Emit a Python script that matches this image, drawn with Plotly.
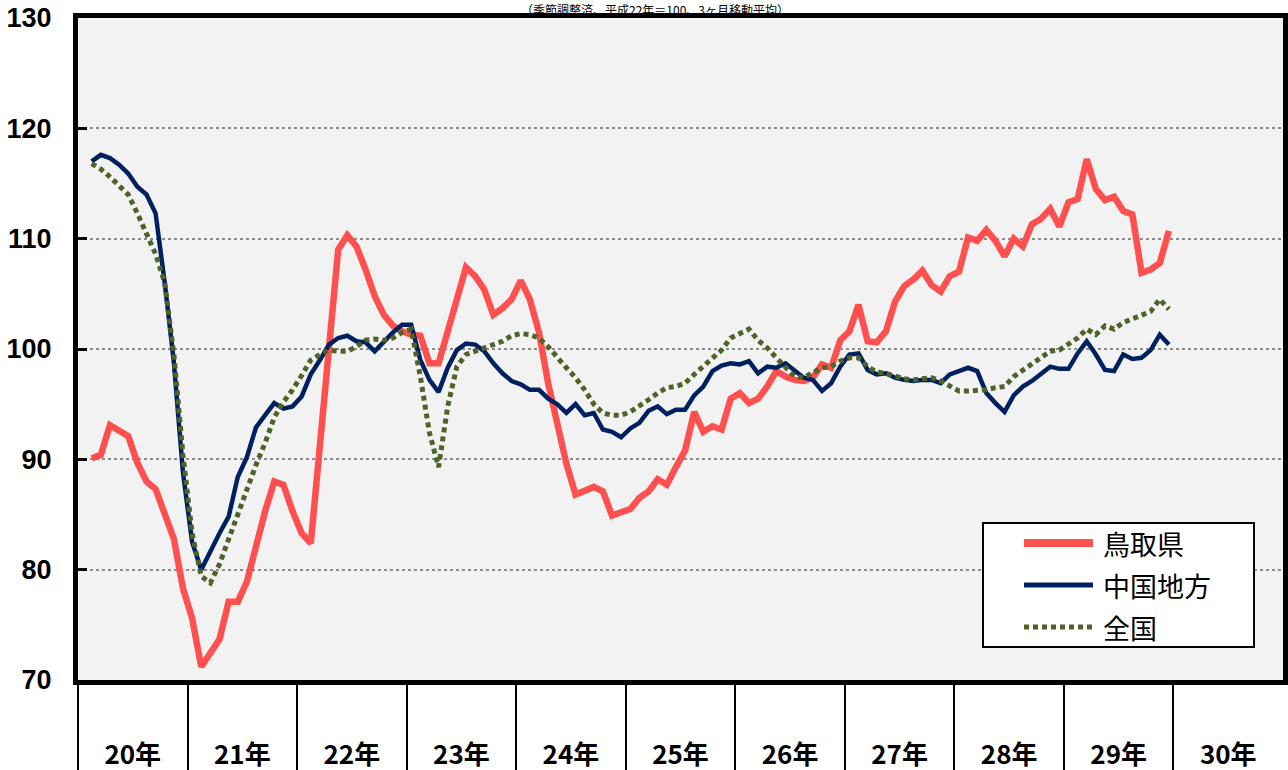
import plotly.graph_objects as go

# ---------------- data ----------------
years = ["20年", "21年", "22年", "23年", "24年", "25年", "26年", "27年", "28年", "29年", "30年"]
series_names = ["鳥取県", "中国地方", "全国"]
start_month_index = 1  # data begins in February of 20年 (3-month moving average)

tottori = [
    90.1, 90.4, 93.1, 92.6, 92.1, 89.7, 88.0, 87.3, 85.0, 82.8, 78.3,
    75.6, 71.2, 72.5, 73.7, 77.1, 77.1, 78.9, 82.3, 85.3, 88.0, 87.7, 85.3,
    83.3, 82.4, 91.3, 100.1, 109.0, 110.3, 109.3, 107.2, 104.8, 103.1, 102.1, 101.6,
    101.3, 101.2, 98.7, 98.7, 101.5, 104.8, 107.4, 106.6, 105.4, 103.1, 103.7, 104.5,
    106.2, 104.5, 101.5, 96.9, 93.3, 89.6, 86.8, 87.1, 87.5, 87.1, 84.9, 85.2,
    85.5, 86.5, 87.1, 88.2, 87.7, 89.3, 90.8, 94.3, 92.5, 93.0, 92.7, 95.5,
    96.0, 95.1, 95.5, 96.6, 98.0, 97.5, 97.2, 97.1, 97.4, 98.6, 98.3, 100.8,
    101.6, 104.0, 100.7, 100.6, 101.6, 104.3, 105.7, 106.3, 107.1, 105.8, 105.2, 106.6,
    107.0, 110.1, 109.8, 110.8, 109.8, 108.4, 110.0, 109.3, 111.3, 111.8, 112.7, 111.1,
    113.3, 113.6, 117.2, 114.5, 113.5, 113.8, 112.5, 112.2, 106.9, 107.2, 107.8, 110.7,
]

chugoku = [
    117.0, 117.6, 117.3, 116.7, 115.9, 114.7, 114.0, 112.3, 106.0, 98.8, 88.8,
    82.5, 80.0, 81.7, 83.3, 84.8, 88.4, 90.2, 92.9, 94.0, 95.1, 94.6, 94.8,
    95.7, 97.7, 99.0, 100.4, 101.0, 101.2, 100.7, 100.6, 99.8, 100.7, 101.5, 102.2,
    102.2, 99.0, 97.2, 96.1, 98.3, 99.9, 100.5, 100.4, 99.8, 98.7, 97.8, 97.1,
    96.8, 96.3, 96.3, 95.5, 95.0, 94.2, 95.0, 94.0, 94.2, 92.7, 92.5, 92.0,
    92.8, 93.3, 94.4, 94.8, 94.1, 94.5, 94.5, 95.8, 96.6, 98.0, 98.5, 98.7,
    98.6, 98.9, 97.8, 98.4, 98.3, 98.7, 98.0, 97.4, 97.2, 96.2, 96.9, 98.4,
    99.5, 99.6, 98.1, 97.7, 97.8, 97.4, 97.2, 97.1, 97.2, 97.2, 96.9, 97.7,
    98.0, 98.3, 98.0, 96.0, 95.1, 94.3, 95.8, 96.6, 97.1, 97.7, 98.4, 98.2,
    98.2, 99.6, 100.7, 99.5, 98.1, 98.0, 99.5, 99.1, 99.2, 99.9, 101.3, 100.4,
]

zenkoku = [
    116.8, 116.3, 115.6, 114.8, 114.0, 112.3, 110.4, 108.6, 106.0, 99.5, 90.4,
    83.3, 79.4, 78.8, 80.5, 82.8, 85.2, 87.2, 89.5, 91.5, 93.8, 95.2, 96.3,
    97.6, 99.0, 99.5, 99.9, 99.8, 99.8, 100.2, 100.8, 100.9, 100.8, 101.0, 101.5,
    101.8, 97.5, 92.4, 89.3, 94.8, 98.4, 99.5, 99.8, 100.2, 100.4, 100.7, 101.2,
    101.4, 101.3, 101.0, 100.2, 99.2, 98.3, 97.4, 96.3, 95.0, 94.2, 94.0, 94.0,
    94.3, 94.8, 95.4, 96.0, 96.5, 96.6, 96.9, 97.7, 98.4, 99.2, 99.9, 101.0,
    101.4, 101.8, 100.8, 100.1, 99.2, 98.4, 97.5, 97.4, 97.8, 98.3, 98.4, 98.9,
    99.2, 99.2, 98.4, 97.9, 97.8, 97.5, 97.3, 97.2, 97.3, 97.4, 97.1, 96.6,
    96.2, 96.2, 96.2, 96.3, 96.5, 96.6, 97.5, 98.1, 98.7, 99.2, 99.8, 99.9,
    100.4, 101.0, 101.8, 101.3, 102.1, 101.8, 102.4, 102.7, 103.0, 103.4, 104.5, 103.6,
]

y_ticks = [70, 80, 90, 100, 110, 120, 130]
title_text = "（季節調整済、平成22年＝100、3ヶ月移動平均）"

# ---------------- style ----------------
W, H = 1288, 770
ML, MR, MT, MB = 78, 5, 18, 90
PW, PH = W - ML - MR, H - MT - MB
FONT = "Noto Sans CJK JP"
NUM_FONT = "Liberation Sans"

styles = [
    dict(color="#ff5050", width=6.5, dash="solid"),
    dict(color="#002060", width=4.5, dash="solid"),
    dict(color="#4f6228", width=5, dash="5px,4px"),
]
values = [tottori, chugoku, zenkoku]

n_months = 12 * len(years)
x_vals = list(range(start_month_index, start_month_index + len(tottori)))

fig = go.Figure()
for name, vals, st in zip(series_names, values, styles):
    fig.add_trace(go.Scatter(
        x=x_vals, y=vals, mode="lines", name=name,
        line=dict(color=st["color"], width=st["width"], dash=st["dash"]),
        showlegend=False, hoverinfo="skip",
    ))

dividers = [12 * k - 0.5 for k in range(len(years))]
centers = [12 * k + 5.5 for k in range(len(years))]

fig.update_layout(
    template="none",
    width=W, height=H,
    margin=dict(l=ML, r=MR, t=MT, b=MB, pad=0, autoexpand=False),
    paper_bgcolor="white", plot_bgcolor="#f2f2f2",
    font=dict(family=FONT, color="black"),
    showlegend=False,
    xaxis=dict(
        automargin=False,
        range=[-0.5, n_months - 0.5], tickmode="array",
        tickvals=centers, ticktext=years, ticks="",
        tickfont=dict(size=26, weight="bold", family=FONT, color="black"),
        ticklabelstandoff=48, ticklabeloverflow="allow",
        showline=True, linecolor="black", linewidth=5, mirror=True,
        showgrid=False, zeroline=False,
        minor=dict(tickmode="array", tickvals=dividers, ticks="outside",
                   ticklen=92, tickwidth=2, tickcolor="black", showgrid=False),
    ),
    yaxis=dict(
        automargin=False,
        range=[70, 130], tickmode="array", tickvals=y_ticks,
        ticks="inside", ticklen=9, tickwidth=3, tickcolor="black",
        tickfont=dict(size=27, weight="bold", family=NUM_FONT, color="black"),
        ticklabelstandoff=16, ticklabeloverflow="allow",
        showline=True, linecolor="black", linewidth=5, mirror=True,
        showgrid=True, gridcolor="#8c8c8c", gridwidth=2, griddash="dot",
        zeroline=False,
    ),
)

# subtitle line above the plot frame
fig.add_annotation(text=title_text, xref="paper", yref="paper",
                   x=(655 - ML) / PW, y=1 + 9 / PH, xanchor="center", yanchor="middle",
                   showarrow=False, borderpad=0,
                   font=dict(size=12, family=FONT, color="black"))

# ---------------- legend (drawn as a framed box) ----------------
def px_x(p):
    return (p - ML) / PW

def px_y(p):
    return (H - MB - p) / PH

fig.add_shape(type="rect", xref="paper", yref="paper",
              x0=px_x(983), x1=px_x(1254), y0=px_y(647), y1=px_y(523),
              fillcolor="white", line=dict(color="black", width=2), layer="above")
row_y = [543, 585, 627]
leg_widths = [8, 5, 5]
for name, st, ry, lw in zip(series_names, styles, row_y, leg_widths):
    fig.add_shape(type="line", xref="paper", yref="paper",
                  x0=px_x(1024), x1=px_x(1093), y0=px_y(ry), y1=px_y(ry),
                  line=dict(color=st["color"], width=lw, dash=st["dash"]), layer="above")
    fig.add_annotation(text=name, xref="paper", yref="paper",
                       x=px_x(1101), y=px_y(ry), xanchor="left", yanchor="middle",
                       showarrow=False, font=dict(size=27, family=FONT, color="black"))

fig.write_html("out.html", config={"displayModeBar": False},
               post_script="document.body.style.margin='0';document.body.style.padding='0';")
